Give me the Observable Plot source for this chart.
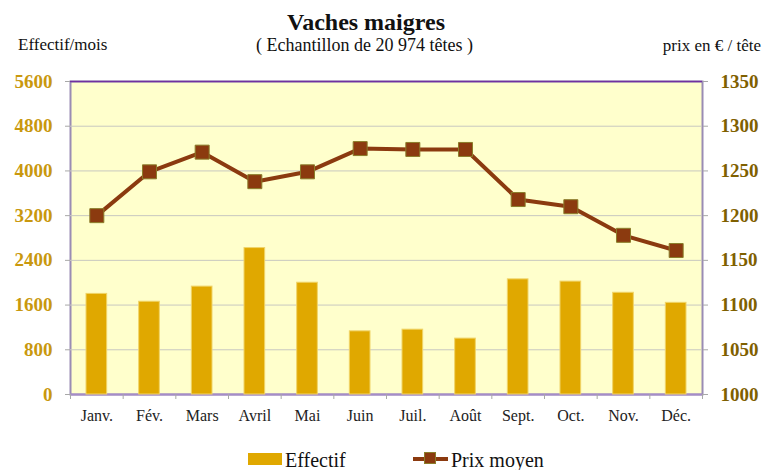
<!DOCTYPE html>
<html>
<head>
<meta charset="utf-8">
<script src="https://cdn.jsdelivr.net/npm/d3@7"></script>
<script src="https://cdn.jsdelivr.net/npm/@observablehq/plot@0.6"></script>
<style>
  html, body { margin: 0; padding: 0; background: #fff; }
  #wrap { position: relative; width: 765px; height: 470px; font-family: "Liberation Serif", "Times New Roman", serif; color: #111; }
  .t { position: absolute; white-space: nowrap; line-height: 1; }
  #chart svg text { font-family: "Liberation Serif", "Times New Roman", serif; }
</style>
</head>
<body>
<div id="wrap">
  <div id="chart"></div>
  <div class="t" style="left:0;width:732px;text-align:center;top:10px;font-size:24px;font-weight:bold;">Vaches maigres</div>
  <div class="t" style="left:0;width:729px;text-align:center;top:36px;font-size:18px;">( Echantillon de 20 974 têtes )</div>
  <div class="t" style="left:18px;top:36px;font-size:17px;">Effectif/mois</div>
  <div class="t" style="right:4px;top:37px;font-size:17px;">prix en € / tête</div>
  <div style="position:absolute;left:248px;top:453px;width:34px;height:12px;background:#E0A800;"></div>
  <div class="t" style="left:285px;top:450px;font-size:20px;">Effectif</div>
  <div style="position:absolute;left:413px;top:457px;width:35px;height:4px;background:#8B3A0F;"></div>
  <div style="position:absolute;left:424px;top:452px;width:12px;height:12px;background:#8B3A0F;box-sizing:border-box;border:1px solid #8B7D2A;"></div>
  <div class="t" style="left:451px;top:450px;font-size:20px;">Prix moyen</div>
</div>
<script>
const months = ["Janv.","Fév.","Mars","Avril","Mai","Juin","Juil.","Août","Sept.","Oct.","Nov.","Déc."];
const effectif = [1800,1660,1930,2620,2000,1130,1160,1000,2060,2020,1820,1640];
const prix = [1200,1249,1271,1238,1249,1275,1274,1274,1218,1210,1178,1161];
const leftTicks = [0,800,1600,2400,3200,4000,4800,5600];
const rightTicks = [1000,1050,1100,1150,1200,1250,1300,1350];

const prixMin = 1000, prixMax = 1350, effMax = 5600;
const k = effMax / (prixMax - prixMin);
const toLeft = p => (p - prixMin) * k;

const data = months.map((m, i) => ({month: m, effectif: effectif[i], prix: prix[i], py: toLeft(prix[i])}));

const W = 765, H = 470, mL = 70, mR = 63, mT = 81, mB = 76;
const bw = (W - mL - mR) / months.length;
const serif = "Liberation Serif, Times New Roman, serif";

const chart = Plot.plot({
  width: W, height: H,
  marginLeft: mL, marginRight: mR, marginTop: mT, marginBottom: mB,
  style: {fontFamily: serif, background: "transparent"},
  x: {type: "band", domain: months, padding: 0, round: false, label: null},
  y: {domain: [0, effMax], label: null},
  marks: [
    Plot.frame({fill: "#FFFFCC", stroke: "#9A8CB4", strokeWidth: 2}),
    Plot.ruleY(leftTicks.filter(d => d > 0 && d < effMax), {stroke: "#C8C8C0", strokeWidth: 1}),
    Plot.ruleY([effMax], {stroke: "#7030A0", strokeWidth: 1.5}),
    Plot.ruleY([0], {stroke: "#A58CC8", strokeWidth: 2}),
    Plot.ruleX(months, {x: d => d, y1: 0, y2: 0, insetBottom: -5, dx: -bw / 2, stroke: "#A8A8A8"}),
    Plot.ruleX([months[months.length - 1]], {x: d => d, y1: 0, y2: 0, insetBottom: -5, dx: bw / 2, stroke: "#A8A8A8"}),
    Plot.barY(data, {x: "month", y: "effectif", fill: "#E0A800", stroke: "#F0D468", strokeWidth: 1, insetLeft: 16, insetRight: 16}),
    Plot.line(data, {x: "month", y: "py", stroke: "#8B3A0F", strokeWidth: 4}),
    Plot.dot(data, {x: "month", y: "py", symbol: "square", r: 7.9, fill: "#8B3A0F", stroke: "#8B7D2A", strokeWidth: 1}),
    Plot.axisY({anchor: "left", ticks: leftTicks, tickFormat: d => String(d), tickSize: 5, tickPadding: 13, stroke: "#A8A8A8", fill: "#C9980E", fontSize: 19, fontWeight: "bold", fontFamily: serif, label: null}),
    Plot.axisY({anchor: "right", ticks: rightTicks.map(toLeft), tickFormat: d => String(Math.round(prixMin + d / k)), tickSize: 5, tickPadding: 13, stroke: "#A8A8A8", fill: "#7F6000", fontSize: 19, fontWeight: "bold", fontFamily: serif, label: null}),
    Plot.axisX({anchor: "bottom", tickSize: 0, tickPadding: 15, fontSize: 16, fill: "#222", fontFamily: serif, label: null})
  ]
});
document.getElementById("chart").appendChild(chart);
</script>
</body>
</html>
